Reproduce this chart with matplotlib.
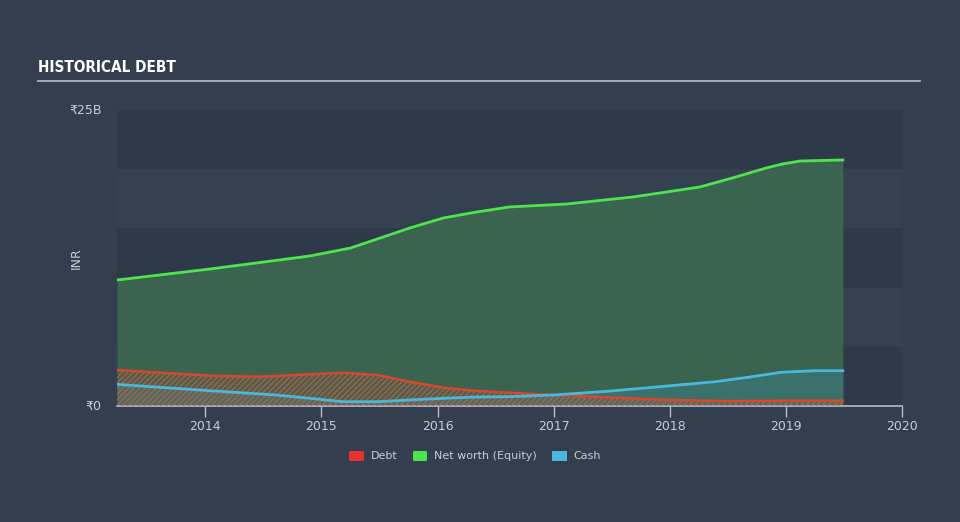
import matplotlib
matplotlib.use("Agg")
import matplotlib.pyplot as plt
from matplotlib.patches import Patch

plt.rcParams['font.family'] = ['DejaVu Sans', 'Noto Sans']

# ---- data (INR billions) ----
equity_x = [2013.24, 2014.04, 2014.90, 2015.25, 2015.48, 2015.76, 2016.05, 2016.34,
            2016.62, 2017.11, 2017.68, 2018.26, 2018.54, 2018.83, 2018.97, 2019.12, 2019.49]
equity_y = [10.64, 11.57, 12.67, 13.34, 14.10, 15.03, 15.88, 16.39,
            16.81, 17.06, 17.65, 18.50, 19.26, 20.10, 20.44, 20.69, 20.78]

debt_x = [2013.24, 2014.04, 2014.47, 2014.90, 2015.19, 2015.48, 2015.76, 2016.05,
          2016.34, 2016.62, 2017.00, 2017.50, 2018.00, 2018.50, 2019.00, 2019.49]
debt_y = [3.04, 2.56, 2.47, 2.68, 2.81, 2.62, 2.05, 1.55,
          1.27, 1.12, 0.93, 0.72, 0.51, 0.42, 0.45, 0.45]

cash_x = [2013.24, 2014.04, 2014.61, 2014.90, 2015.19, 2015.48, 2015.76, 2016.05,
          2016.34, 2016.62, 2017.00, 2017.50, 2017.82, 2018.39, 2018.67, 2018.96,
          2019.25, 2019.49]
cash_y = [1.83, 1.29, 0.93, 0.65, 0.36, 0.36, 0.51, 0.65,
          0.76, 0.79, 0.93, 1.27, 1.55, 2.05, 2.42, 2.85, 2.98, 2.98]

x_ticks = [2014, 2015, 2016, 2017, 2018, 2019, 2020]
y_ticks = [0, 25]
y_tick_labels = ['₹0', '₹25B']
legend_labels = ['Debt', 'Net worth (Equity)', 'Cash']

# ---- styling ----
BG = '#333f4f'
BAND_DARK = '#2e3a4a'
BAND_LIGHT = '#334151'
TXT = '#c8ccd2'
GREEN = '#4ee44e'
RED = '#e5322e'
BLUE = '#4ab8dc'

fig = plt.figure(figsize=(9.6, 5.22), dpi=100, facecolor=BG)
ax = fig.add_axes([117/960, 1-406/522, 785/960, 296/522])
ax.set_facecolor(BG)

# alternating horizontal bands
for i in range(5):
    ax.axhspan(i*5, (i+1)*5, color=BAND_DARK if i % 2 == 0 else BAND_LIGHT, lw=0, zorder=0)

# net worth
ax.fill_between(equity_x, 0, equity_y, color='#3a6350', lw=0, zorder=1)
ax.plot(equity_x, equity_y, color=GREEN, lw=2, zorder=5)

# cash
ax.fill_between(cash_x, 0, cash_y, color='#3b716b', lw=0, zorder=2)

# debt (hatched)
plt.rcParams['hatch.linewidth'] = 0.8
ax.fill_between(debt_x, 0, debt_y, facecolor=(0.9, 0.3, 0.2, 0.12), edgecolor='#b8604a',
                hatch='//////', lw=0, zorder=3)
ax.plot(debt_x, debt_y, color='#d8482c', lw=1.8, zorder=6)
ax.plot(cash_x, cash_y, color=BLUE, lw=2, zorder=7)

ax.set_xlim(2013.24, 2020)
ax.set_ylim(0, 25)

for s in ['top', 'right', 'left']:
    ax.spines[s].set_visible(False)
ax.spines['bottom'].set_color('#b8bec8')
ax.spines['bottom'].set_linewidth(1.2)

ax.set_xticks(x_ticks)
ax.set_xticklabels([str(t) for t in x_ticks])
ax.tick_params(axis='x', colors='#b8bec8', length=8, width=1, labelsize=9, pad=2,
               labelcolor=TXT)
ax.set_yticks(y_ticks)
ax.set_yticklabels(y_tick_labels)
ax.tick_params(axis='y', length=0, labelsize=9, labelcolor=TXT, pad=11)
for lbl in ax.get_yticklabels():
    lbl.set_verticalalignment('center')

ax.set_ylabel('INR', color=TXT, fontsize=9)
ax.yaxis.set_label_coords(-0.043, 0.5)

# title and rule
fig.text(38/960, 1-68/522, 'HISTORICAL DEBT', color='white', fontsize=11,
         fontweight='bold', fontstretch='condensed', va='center', ha='left')
fig.add_artist(plt.Line2D([38/960, 920/960], [1-81/522, 1-81/522], color='#b8bec8',
                          lw=1.2, transform=fig.transFigure))

handles = [Patch(facecolor=c, edgecolor='none') for c in [RED, GREEN, BLUE]]
leg = fig.legend(handles, legend_labels, loc='center', bbox_to_anchor=(475/960, 1-456/522),
                 ncol=3, frameon=False, fontsize=8, labelcolor=TXT,
                 handlelength=1.3, handleheight=1.0, columnspacing=1.4, handletextpad=0.6)

fig.savefig('out.png', dpi=100, facecolor=BG)
